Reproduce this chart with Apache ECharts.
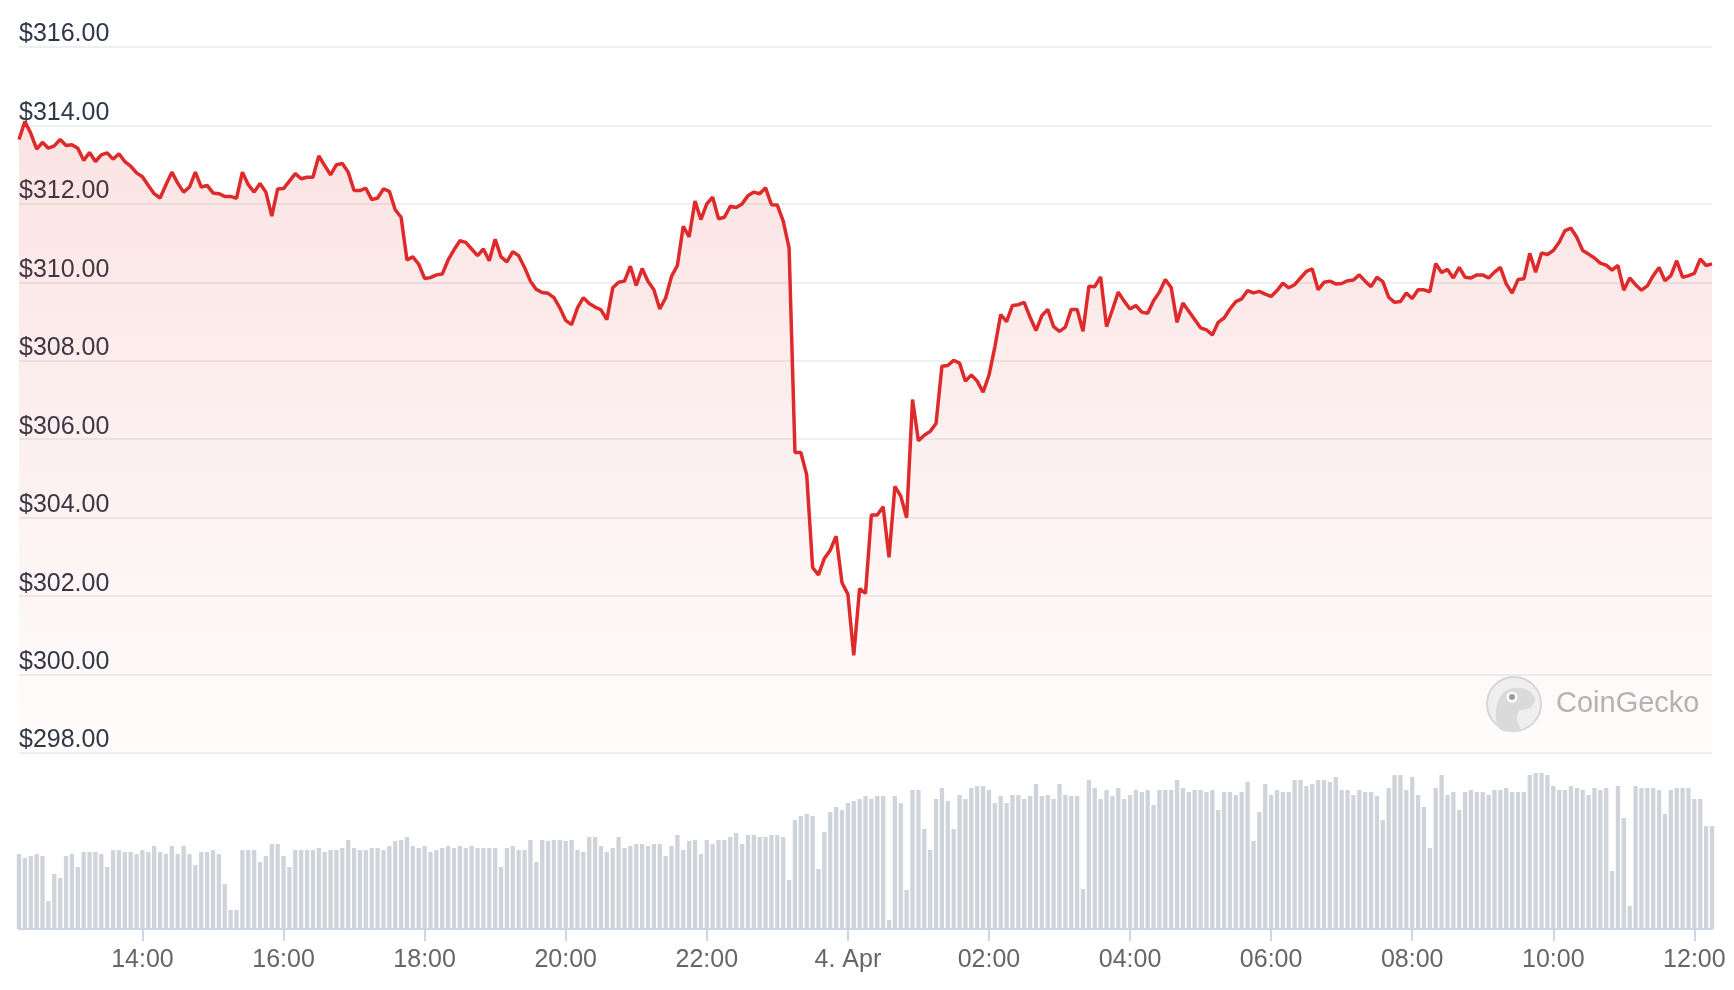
<!DOCTYPE html>
<html>
<head>
<meta charset="utf-8">
<title>Price chart</title>
<script src="https://cdn.jsdelivr.net/npm/echarts@6/dist/echarts.min.js"></script>
<style>
  html, body { margin: 0; padding: 0; background: #fff; }
  #chart { width: 1734px; height: 990px; }
</style>
</head>
<body>
<div id="chart"></div>
<script>
// 5 minute samples, from 3 Apr 12:15 to 4 Apr 12:15
const startDay = 3;
const startMinute = 12 * 60 + 15;
const stepMinutes = 5;

const prices = [
  313.64, 314.10, 313.80, 313.40, 313.57, 313.42, 313.48, 313.64, 313.49, 313.51,
  313.42, 313.11, 313.31, 313.08, 313.25, 313.30, 313.14, 313.28, 313.08, 312.96,
  312.79, 312.69, 312.47, 312.26, 312.15, 312.49, 312.81, 312.53, 312.30, 312.43,
  312.81, 312.43, 312.47, 312.28, 312.26, 312.19, 312.19, 312.14, 312.81, 312.49,
  312.30, 312.52, 312.30, 311.69, 312.38, 312.39, 312.58, 312.77, 312.64, 312.68,
  312.68, 313.22, 312.98, 312.74, 313.00, 313.03, 312.81, 312.34, 312.34, 312.40,
  312.11, 312.15, 312.38, 312.32, 311.85, 311.66, 310.57, 310.65, 310.46, 310.10,
  310.12, 310.19, 310.21, 310.57, 310.83, 311.06, 311.02, 310.85, 310.68, 310.85,
  310.55, 311.10, 310.65, 310.52, 310.78, 310.68, 310.38, 310.03, 309.82, 309.74,
  309.72, 309.61, 309.35, 309.03, 308.92, 309.35, 309.61, 309.46, 309.37, 309.30,
  309.05, 309.86, 310.00, 310.03, 310.41, 309.92, 310.35, 310.03, 309.81, 309.32,
  309.60, 310.15, 310.43, 311.43, 311.16, 312.07, 311.60, 312.00, 312.17, 311.62,
  311.66, 311.94, 311.91, 312.00, 312.21, 312.30, 312.26, 312.41, 311.98, 311.97,
  311.56, 310.88, 305.66, 305.66, 305.09, 302.73, 302.54, 302.96, 303.17, 303.53,
  302.34, 302.05, 300.49, 302.19, 302.07, 304.07, 304.07, 304.28, 302.99, 304.80,
  304.55, 304.00, 307.01, 305.96, 306.10, 306.20, 306.40, 307.86, 307.88, 308.01,
  307.94, 307.48, 307.64, 307.48, 307.20, 307.63, 308.35, 309.18, 309.00, 309.41,
  309.43, 309.49, 309.11, 308.77, 309.15, 309.31, 308.87, 308.75, 308.86, 309.31,
  309.31, 308.75, 309.90, 309.89, 310.14, 308.87, 309.30, 309.75, 309.52, 309.32,
  309.41, 309.24, 309.21, 309.53, 309.75, 310.07, 309.87, 308.98, 309.47, 309.26,
  309.05, 308.84, 308.79, 308.66, 308.98, 309.09, 309.32, 309.51, 309.58, 309.79,
  309.73, 309.77, 309.70, 309.64, 309.79, 309.98, 309.86, 309.94, 310.11, 310.28,
  310.34, 309.81, 310.00, 310.03, 309.96, 309.97, 310.04, 310.06, 310.19, 310.03,
  309.89, 310.13, 310.02, 309.62, 309.49, 309.51, 309.73, 309.59, 309.81, 309.81,
  309.76, 310.48, 310.25, 310.33, 310.11, 310.38, 310.13, 310.11, 310.19, 310.19,
  310.11, 310.26, 310.38, 309.96, 309.73, 310.07, 310.09, 310.74, 310.26, 310.75,
  310.71, 310.81, 311.02, 311.32, 311.38, 311.15, 310.81, 310.72, 310.62, 310.49,
  310.44, 310.31, 310.43, 309.80, 310.11, 309.94, 309.80, 309.91, 310.17, 310.38,
  310.04, 310.17, 310.55, 310.13, 310.17, 310.23, 310.60, 310.43, 310.47
];

// traded volume per sample (relative units)
const volumes = [
  75, 71, 73, 75, 73, 28, 55, 51, 73, 75,
  62, 77, 77, 77, 75, 62, 79, 79, 77, 77,
  75, 79, 77, 83, 77, 75, 83, 75, 83, 75,
  64, 77, 77, 79, 75, 45, 19, 19, 79, 79,
  79, 67, 73, 85, 85, 73, 62, 79, 79, 79,
  79, 81, 77, 79, 79, 81, 89, 81, 79, 79,
  81, 81, 79, 83, 88, 89, 92, 83, 81, 83,
  77, 79, 81, 83, 81, 83, 81, 83, 81, 81,
  81, 81, 62, 81, 83, 79, 79, 89, 67, 89,
  88, 89, 89, 88, 89, 79, 77, 92, 92, 83,
  77, 81, 92, 81, 83, 85, 85, 83, 85, 85,
  73, 83, 94, 79, 88, 89, 75, 89, 85, 89,
  89, 92, 96, 85, 94, 94, 92, 92, 94, 94,
  92, 49, 109, 113, 115, 113, 60, 97, 117, 122,
  119, 126, 128, 130, 133, 130, 133, 133, 9, 133,
  126, 39, 139, 139, 100, 79, 130, 141, 128, 100,
  134, 130, 141, 143, 143, 139, 126, 133, 126, 134,
  134, 130, 133, 145, 133, 134, 130, 145, 134, 133,
  133, 40, 149, 141, 130, 139, 133, 141, 130, 134,
  139, 137, 139, 124, 139, 139, 139, 149, 141, 137,
  139, 139, 137, 139, 119, 137, 137, 134, 137, 147,
  88, 117, 145, 134, 139, 137, 137, 149, 149, 143,
  145, 149, 149, 147, 152, 139, 139, 134, 139, 137,
  137, 133, 109, 141, 154, 154, 139, 152, 134, 122,
  81, 141, 154, 134, 137, 119, 137, 139, 137, 137,
  134, 139, 139, 141, 137, 137, 137, 154, 156, 156,
  154, 143, 139, 139, 143, 141, 139, 134, 141, 139,
  141, 58, 143, 111, 23, 143, 141, 141, 141, 139,
  115, 139, 141, 141, 141, 130, 130, 103, 103
];

const xTickTimes = ['14:00', '16:00', '18:00', '20:00', '22:00', '00:00',
  '02:00', '04:00', '06:00', '08:00', '10:00', '12:00'];
const xTickNames = { '00:00': '4. Apr' };

const priceMin = 298;
const priceMax = 316;
const priceStep = 2;
const volumeMax = 170;

const times = [];
for (let i = 0; i < prices.length; i++) {
  const m = startMinute + i * stepMinutes;
  const day = startDay + Math.floor(m / 1440);
  const hh = String(Math.floor((m % 1440) / 60)).padStart(2, '0');
  const mm = String(m % 60).padStart(2, '0');
  times.push(day + ' Apr ' + hh + ':' + mm);
}

const isTick = (index, value) => xTickTimes.includes(value.slice(-5));

const chart = echarts.init(document.getElementById('chart'));

chart.setOption({
  animation: false,
  backgroundColor: '#fff',
  textStyle: { fontFamily: 'Liberation Sans, Arial, sans-serif' },
  grid: [
    { left: 19, right: 22, top: 47, height: 706 },
    { left: 19, right: 22, top: 759, height: 170 }
  ],
  xAxis: [
    {
      type: 'category', gridIndex: 0, data: times, boundaryGap: false, show: false
    },
    {
      type: 'category', gridIndex: 1, data: times, boundaryGap: false,
      axisLine: { lineStyle: { color: '#ccd6eb', width: 2 } },
      axisTick: { interval: isTick, length: 12, lineStyle: { color: '#ccd6eb', width: 2 } },
      axisLabel: {
        interval: isTick,
        margin: 19,
        fontSize: 25,
        color: '#666',
        formatter: (value) => {
          const t = value.slice(-5);
          return xTickNames[t] || t;
        }
      },
      splitLine: { show: false }
    }
  ],
  yAxis: [
    {
      type: 'value', gridIndex: 0,
      min: priceMin, max: priceMax, interval: priceStep,
      axisLine: { show: false },
      axisTick: { show: false },
      axisLabel: {
        inside: true,
        margin: 0,
        verticalAlign: 'bottom',
        padding: [0, 0, 0, 0],
        fontSize: 25,
        color: '#2f3846',
        formatter: (v) => '$' + v.toFixed(2)
      },
      splitLine: { lineStyle: { color: '#efefef', width: 2 } }
    },
    {
      type: 'value', gridIndex: 1, min: 0, max: volumeMax, show: false,
      splitLine: { show: false }
    }
  ],
  series: [
    {
      name: 'Volume',
      type: 'bar',
      xAxisIndex: 1,
      yAxisIndex: 1,
      data: volumes,
      barWidth: 4.3,
      itemStyle: { color: '#cfd3da' }
    },
    {
      name: 'Price',
      type: 'line',
      xAxisIndex: 0,
      yAxisIndex: 0,
      data: prices,
      showSymbol: false,
      lineStyle: { color: '#de2a2a', width: 3.5 },
      areaStyle: {
        origin: 'start',
        color: new echarts.graphic.LinearGradient(0, 0, 0, 1, [
          { offset: 0, color: 'rgba(222, 42, 42, 0.19)' },
          { offset: 1, color: 'rgba(222, 42, 42, 0.02)' }
        ])
      },
      z: 3
    }
  ],
  graphic: [
    {
      type: 'circle',
      shape: { cx: 1514, cy: 704, r: 27 },
      style: { fill: '#efefef', stroke: '#d6d6d6', lineWidth: 2 },
      z: 10
    },
    {
      type: 'polygon',
      shape: {
        points: [[1499, 728], [1496, 710], [1502, 694], [1514, 688], [1528, 690],
          [1535, 699], [1530, 708], [1519, 711], [1517, 720], [1520, 730], [1509, 732]],
        smooth: 0.35
      },
      style: { fill: '#dadada' },
      z: 11
    },
    {
      type: 'circle',
      shape: { cx: 1512, cy: 697, r: 5.5 },
      style: { fill: '#fff' },
      z: 12
    },
    {
      type: 'circle',
      shape: { cx: 1512, cy: 697, r: 3 },
      style: { fill: '#9a9a9a' },
      z: 13
    },
    {
      type: 'text',
      x: 1556,
      y: 704,
      style: {
        text: 'CoinGecko',
        fill: '#b3b3b3',
        font: '29px "Liberation Sans", Arial, sans-serif',
        verticalAlign: 'middle'
      },
      z: 10
    }
  ]
});
</script>
</body>
</html>
